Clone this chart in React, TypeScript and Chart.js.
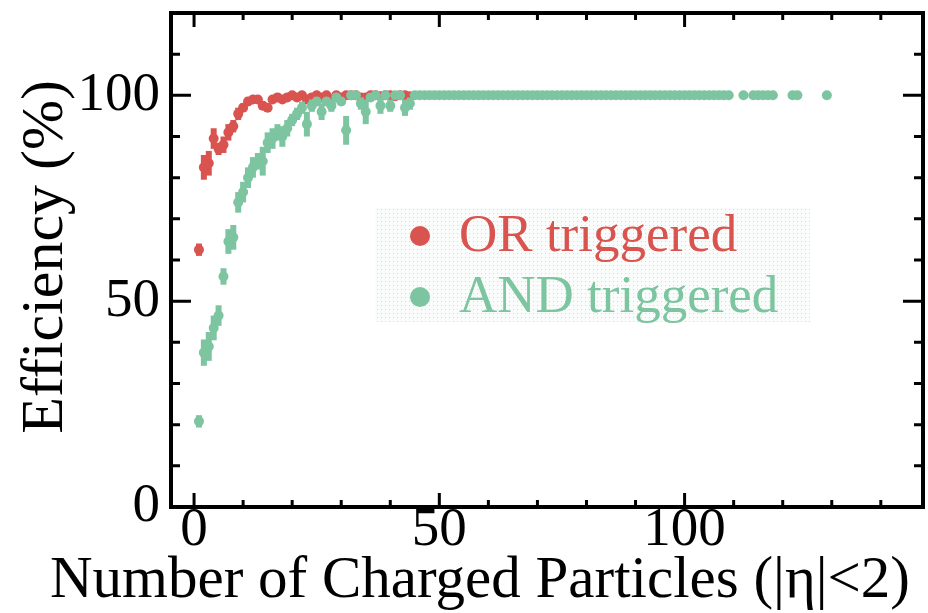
import { useEffect, useRef } from 'react';
import { Chart, registerables } from 'chart.js';

Chart.register(...registerables);

// Number of charged particles in |eta| < 2 (bin values)
const OR_N = [
  1, 2, 3, 4, 5, 6, 7, 8, 9, 10, 11, 12, 13, 14, 15, 16, 17, 18, 19, 20, 21, 22,
  23, 24, 25, 26, 27, 28, 29, 30, 31, 32, 33, 34, 35, 36, 37, 38, 39, 40, 41, 42,
  43, 44,
];
// OR-trigger efficiency (%) and its uncertainty
const OR_EFF = [
  62.5, 82.5, 83.5, 89.5, 87.0, 88.0, 91.0, 92.5, 95.5, 97.0,
  98.5, 99.0, 99.0, 97.5, 97.0, 99.0, 99.5, 99.0, 99.5, 100,
  99.5, 100, 99.0, 99.5, 100, 99.5, 100, 99.0, 100, 99.5,
  100, 100, 100, 99.5, 99.5, 100, 100, 99.8, 100, 100,
  99.8, 100, 100, 99.8,
];
const OR_ERR = [
  1.5, 3.0, 3.0, 2.5, 1.5, 2.0, 2.0, 1.5, 1.5, 1.0,
  1.0, 0.8, 0.8, 1.0, 1.0, 0.8, 0.5, 0.8, 0.5, 0.3,
  0.5, 0.3, 0.8, 0.5, 0.3, 0.5, 0.3, 0.8, 0.3, 0.5,
  0.3, 0.3, 0.3, 0.5, 0.5, 0.3, 0.3, 0.3, 0.3, 0.3,
  0.3, 0.3, 0.3, 0.3,
];

const AND_N = [
  1, 2, 3, 4, 5, 6, 7, 8, 9, 10, 11, 12, 13, 14, 15, 16, 17, 18, 19, 20, 21, 22,
  23, 24, 25, 26, 27, 28, 29, 30, 31, 32, 33, 34, 35, 36, 37, 38, 39, 40, 41, 42,
  43, 44, 45, 46, 47, 48, 49, 50, 51, 52, 53, 54, 55, 56, 57, 58, 59, 60, 61, 62,
  63, 64, 65, 66, 67, 68, 69, 70, 71, 72, 73, 74, 75, 76, 77, 78, 79, 80, 81, 82,
  83, 84, 85, 86, 87, 88, 89, 90, 91, 92, 93, 94, 95, 96, 97, 98, 99, 100, 101,
  102, 103, 104, 105, 106, 107, 108, 109, 112, 114, 115, 116, 117, 118, 122, 123,
  129,
];
// AND-trigger efficiency (%) and its uncertainty
const AND_EFF = [
  20.8, 37.5, 39.0, 43.5, 46.5, 56.0, 64.5, 65.5, 74.0, 76.5,
  80.0, 82.5, 84.0, 84.0, 88.5, 89.5, 91.0, 90.0, 92.0, 94.0,
  95.5, 97.0, 93.0, 97.5, 98.5, 96.0, 98.5, 97.5, 99.5, 98.5,
  91.5, 100, 100, 98.0, 96.0, 99.5, 100, 97.5, 100, 97.5,
  100, 100, 97.0, 98.0, 100, 100, 100, 100, 100, 100,
  100, 100, 100, 100, 100, 100, 100, 100, 100, 100,
  100, 100, 100, 100, 100, 100, 100, 100, 100, 100,
  100, 100, 100, 100, 100, 100, 100, 100, 100, 100,
  100, 100, 100, 100, 100, 100, 100, 100, 100, 100,
  100, 100, 100, 100, 100, 100, 100, 100, 100, 100,
  100, 100, 100, 100, 100, 100, 100, 100, 100, 100,
  100, 100, 100, 100, 100, 100, 100, 100,
];
const AND_ERR = [
  1.5, 3.2, 3.5, 3.0, 2.5, 2.0, 3.0, 3.0, 2.5, 2.5,
  2.5, 2.5, 2.0, 3.5, 2.5, 2.5, 2.0, 2.5, 2.0, 1.5,
  1.5, 1.5, 3.0, 1.5, 1.0, 2.0, 1.0, 1.5, 0.5, 1.0,
  3.5, 0.3, 0.3, 1.5, 3.0, 0.5, 0.3, 2.0, 0.3, 1.5,
  0.3, 0.3, 2.0, 1.5, 0, 0, 0, 0, 0, 0,
  0, 0, 0, 0, 0, 0, 0, 0, 0, 0,
  0, 0, 0, 0, 0, 0, 0, 0, 0, 0,
  0, 0, 0, 0, 0, 0, 0, 0, 0, 0,
  0, 0, 0, 0, 0, 0, 0, 0, 0, 0,
  0, 0, 0, 0, 0, 0, 0, 0, 0, 0,
  0, 0, 0, 0, 0, 0, 0, 0, 0, 0,
  0, 0, 0, 0, 0, 0, 0, 0,
];

const X_TICKS = [0, 10, 20, 30, 40, 50, 60, 70, 80, 90, 100, 110, 120, 130, 140];
const Y_TICKS = [0, 10, 20, 30, 40, 50, 60, 70, 80, 90, 100, 110, 120];
const X_LABELED = [0, 50, 100];
const Y_LABELED = [0, 50, 100];

const RED = '#d9534f';
const GREEN = '#7dc4a0';
const SERIF = '"Liberation Serif", "Times New Roman", serif';

const toPoints = (xs: number[], ys: number[]) => xs.map((x, i) => ({ x, y: ys[i] }));

const errorBars = {
  id: 'errorBars',
  beforeDatasetDraw(chart: any, args: any) {
    const ds = chart.data.datasets[args.index];
    const errs: number[] = ds.errors;
    if (!errs) return;
    const { ctx, scales } = chart;
    const xs = scales.x;
    const ys = scales.y;
    ctx.save();
    ctx.strokeStyle = ds.backgroundColor;
    ctx.lineWidth = 6;
    ds.data.forEach((p: any, i: number) => {
      const e = errs[i];
      if (!e) return;
      const px = xs.getPixelForValue(p.x);
      ctx.beginPath();
      ctx.moveTo(px, ys.getPixelForValue(p.y - e));
      ctx.lineTo(px, ys.getPixelForValue(p.y + e));
      ctx.stroke();
    });
    ctx.restore();
  },
};

const frameAndLegend = {
  id: 'frameAndLegend',
  afterDraw(chart: any) {
    const { ctx, chartArea: a, scales } = chart;
    const xs = scales.x;
    const ys = scales.y;
    ctx.save();

    // legend box with faint dotted fill
    const tile = document.createElement('canvas');
    tile.width = 4;
    tile.height = 4;
    const tctx = tile.getContext('2d')!;
    tctx.fillStyle = 'rgba(130, 205, 150, 0.45)';
    tctx.fillRect(1, 1, 1, 1);
    ctx.fillStyle = 'rgba(244, 250, 245, 0.5)';
    ctx.fillRect(375, 208, 435, 114);
    ctx.fillStyle = ctx.createPattern(tile, 'repeat');
    ctx.fillRect(375, 208, 435, 114);

    const entries = chart.data.datasets.map((d: any) => ({ label: d.label, color: d.backgroundColor }));
    ctx.font = `53px ${SERIF}`;
    ctx.textAlign = 'left';
    ctx.textBaseline = 'alphabetic';
    entries.forEach((e: any, i: number) => {
      const cy = 236 + i * 61;
      ctx.fillStyle = e.color;
      ctx.beginPath();
      ctx.arc(420, cy, 10, 0, Math.PI * 2);
      ctx.fill();
      ctx.fillText(e.label, 459, cy + 15);
    });

    // frame
    ctx.strokeStyle = '#000';
    ctx.lineWidth = 4;
    ctx.strokeRect(a.left, a.top, a.right - a.left, a.bottom - a.top);

    // inward ticks on all four sides
    ctx.lineWidth = 3;
    ctx.beginPath();
    X_TICKS.forEach((v) => {
      const px = xs.getPixelForValue(v);
      const len = v % 50 === 0 ? 14 : 7;
      ctx.moveTo(px, a.bottom);
      ctx.lineTo(px, a.bottom - len);
      ctx.moveTo(px, a.top);
      ctx.lineTo(px, a.top + len);
    });
    Y_TICKS.forEach((v) => {
      const py = ys.getPixelForValue(v);
      const len = v % 50 === 0 ? 20 : 9;
      ctx.moveTo(a.left, py);
      ctx.lineTo(a.left + len, py);
      ctx.moveTo(a.right, py);
      ctx.lineTo(a.right - len, py);
    });
    ctx.stroke();

    // axis titles
    ctx.fillStyle = '#000';
    ctx.font = `59px ${SERIF}`;
    ctx.textAlign = 'right';
    ctx.fillText('Number of Charged Particles (|\u03b7|<2)', 910, 597);
    ctx.font = `60px ${SERIF}`;
    ctx.translate(62, 80);
    ctx.rotate(-Math.PI / 2);
    ctx.fillText('Efficiency (%)', 0, 0);
    ctx.restore();
  },
};

export default function App() {
  const ref = useRef<HTMLCanvasElement>(null);

  useEffect(() => {
    const canvas = ref.current;
    if (!canvas) return;
    const chart = new Chart(canvas, {
      type: 'scatter',
      data: {
        datasets: [
          {
            label: 'OR triggered',
            data: toPoints(OR_N, OR_EFF),
            errors: OR_ERR,
            backgroundColor: RED,
            borderColor: RED,
            borderWidth: 0,
            pointRadius: 5,
            pointHoverRadius: 5,
            order: 1,
          } as any,
          {
            label: 'AND triggered',
            data: toPoints(AND_N, AND_EFF),
            errors: AND_ERR,
            backgroundColor: GREEN,
            borderColor: GREEN,
            borderWidth: 0,
            pointRadius: 5,
            pointHoverRadius: 5,
            order: 0,
          } as any,
        ],
      },
      options: {
        responsive: false,
        animation: false,
        devicePixelRatio: 1,
        layout: { padding: { top: 13, right: 4, left: 0, bottom: 0 } },
        plugins: { legend: { display: false }, tooltip: { enabled: false } },
        events: [],
        scales: {
          x: {
            type: 'linear',
            min: -4.7,
            max: 148.6,
            grid: { display: false, drawTicks: false, tickLength: 0 },
            border: { display: false },
            afterBuildTicks: (s: any) => {
              s.ticks = X_TICKS.map((v) => ({ value: v }));
            },
            afterFit: (s: any) => {
              s.height = 106;
              s.paddingLeft = 0;
              s.paddingRight = 0;
            },
            ticks: {
              autoSkip: false,
              maxRotation: 0,
              padding: -4,
              color: '#000',
              font: { family: SERIF, size: 55, lineHeight: 1 },
              callback: (v: any) => (X_LABELED.includes(Number(v)) ? String(v) : ''),
            },
          },
          y: {
            type: 'linear',
            min: 0,
            max: 120,
            grid: { display: false, drawTicks: false, tickLength: 0 },
            border: { display: false },
            afterBuildTicks: (s: any) => {
              s.ticks = Y_TICKS.map((v) => ({ value: v }));
            },
            afterFit: (s: any) => {
              s.width = 171;
              s.paddingTop = 0;
              s.paddingBottom = 0;
            },
            ticks: {
              autoSkip: false,
              padding: 11,
              color: '#000',
              font: { family: SERIF, size: 55, lineHeight: 1 },
              callback: (v: any) => (Y_LABELED.includes(Number(v)) ? String(v) : ''),
            },
          },
        },
      },
      plugins: [errorBars, frameAndLegend],
    });
    return () => chart.destroy();
  }, []);

  return (
    <div style={{ position: 'fixed', left: 0, top: 0, width: 928, height: 613, background: '#fff' }}>
      <canvas ref={ref} width={928} height={613} style={{ width: 928, height: 613 }} />
    </div>
  );
}
